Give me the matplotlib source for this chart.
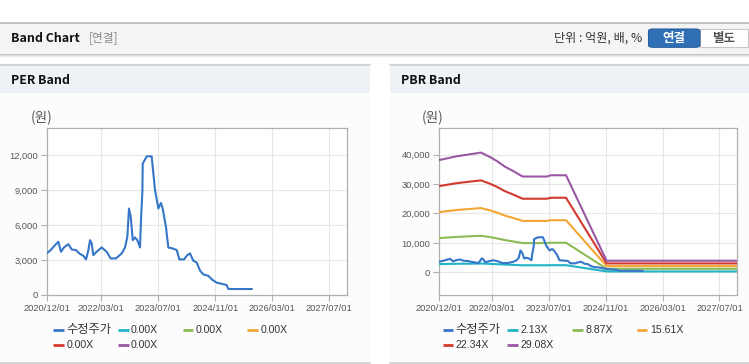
import matplotlib
matplotlib.use("Agg")
import matplotlib.pyplot as plt
from matplotlib.patches import Rectangle, FancyBboxPatch
from matplotlib.lines import Line2D
import pandas as pd

plt.rcParams['font.family'] = ['Liberation Sans', 'Noto Sans CJK KR', 'DejaVu Sans']

# ---------------- data ----------------
price_dates = ["2020-12-01", "2020-12-24", "2021-02-05", "2021-03-05", "2021-03-28", "2021-04-22",
               "2021-05-29", "2021-06-27", "2021-08-03", "2021-08-31", "2021-10-04", "2021-10-27",
               "2021-11-16", "2021-11-30", "2021-12-14", "2021-12-28", "2022-01-25", "2022-03-09",
               "2022-04-21", "2022-05-25", "2022-07-09", "2022-08-27", "2022-09-24", "2022-10-14",
               "2022-10-28", "2022-11-12", "2022-11-29", "2022-12-18", "2023-01-07", "2023-01-30",
               "2023-02-07", "2023-02-19", "2023-02-22", "2023-03-28", "2023-05-09", "2023-06-07",
               "2023-07-05", "2023-07-27", "2023-08-11", "2023-09-08", "2023-09-28", "2023-11-04",
               "2023-12-09", "2023-12-31", "2024-02-09", "2024-03-08", "2024-03-31", "2024-04-28",
               "2024-05-27", "2024-06-24", "2024-07-22", "2024-09-03", "2024-10-02", "2024-11-13",
               "2025-01-03", "2025-02-06", "2025-02-20", "2025-09-07"]
price_values = [3626, 3800, 4286, 4570, 3714, 4086,
                4370, 3914, 3857, 3571, 3371, 3057,
                3857, 4714, 4429, 3429, 3714, 4086,
                3714, 3143, 3143, 3571, 4086, 5000,
                7429, 6714, 4714, 4943, 4714, 4086,
                6429, 8857, 11286, 11914, 11914, 9000,
                7429, 7914, 7429, 5857, 4086, 4000,
                3857, 3057, 3057, 3429, 3571, 2943,
                2800, 2100, 1771, 1650, 1343, 1057,
                943, 857, 514, 514]

band_dates = ["2020-12-01", "2021-04-29", "2021-11-24", "2022-02-09", "2022-04-07", "2022-06-17",
              "2022-08-28", "2022-11-16", "2023-06-10", "2023-07-17", "2023-11-23", "2024-11-05",
              "2027-12-01"]
pbr_213 = [2797, 2890, 2982, 2871, 2775, 2631, 2520, 2386, 2386, 2418, 2418, 288, 288]
pbr_887 = [11646, 12037, 12418, 11957, 11558, 10954, 10493, 9934, 9934, 10067, 10067, 1197, 1197]
pbr_1561 = [20496, 21183, 21854, 21042, 20340, 19278, 18467, 17483, 17483, 17717, 17717, 2107, 2107]
pbr_2234 = [29332, 30315, 31276, 30114, 29109, 27590, 26428, 25021, 25021, 25356, 25356, 3016, 3016]
pbr_2908 = [38182, 39462, 40712, 39200, 37891, 35914, 34402, 32570, 32570, 33006, 33006, 3926, 3926]

price_label = "수정주가"
per_band_labels = ["0.00X", "0.00X", "0.00X", "0.00X", "0.00X"]
pbr_band_labels = ["2.13X", "8.87X", "15.61X", "22.34X", "29.08X"]

x_tick_labels = ["2020/12/01", "2022/03/01", "2023/07/01", "2024/11/01", "2026/03/01", "2027/07/01"]
per_yticks = [0, 3000, 6000, 9000, 12000]
pbr_yticks = [0, 10000, 20000, 30000, 40000]

price_color = "#3676c8"
band_colors = ["#22b3c6", "#8dba57", "#f3a632", "#d23a2f", "#9a58a4"]

# ---------------- figure ----------------
W, H = 749, 364
fig = plt.figure(figsize=(W / 100, H / 100), dpi=100)
fig.patch.set_facecolor("white")
KR = ["Noto Sans CJK KR"]


def fx(px):
    return px / W


def fy(py):
    return 1 - py / H


def rect(x0, y0, x1, y1, fc, ec="none", lw=0, z=0):
    r = Rectangle((fx(x0), fy(y1)), fx(x1) - fx(x0), fy(y0) - fy(y1),
                  transform=fig.transFigure, facecolor=fc, edgecolor=ec, linewidth=lw, zorder=z)
    fig.add_artist(r)


def hline(x0, x1, y, color, lw=1.0, alpha=1.0, z=1):
    fig.add_artist(Line2D([fx(x0), fx(x1)], [fy(y), fy(y)], transform=fig.transFigure,
                          color=color, linewidth=lw, alpha=alpha, zorder=z))


# top header bar
rect(0, 22, W, 53, "#f4f4f4")
hline(0, W, 22.5, "#b9b9b9", lw=1.2)
hline(0, W, 53.5, "#c4c4c4", lw=0.9)
hline(0, W, 54.5, "#d8d8d8", lw=0.9)
hline(0, W, 55.5, "#ececec", lw=0.9)
fig.text(fx(11), fy(38), "Band Chart", fontsize=8.9, fontweight="bold",
         family=KR, color="#111111", va="center", ha="left")
fig.text(fx(89), fy(38), "[연결]", fontsize=8.5, color="#8a8a8a", va="center", ha="left", family=KR)
fig.text(fx(642), fy(38), "단위 : 억원, 배, %", fontsize=8.7, color="#333333", va="center", ha="right",
         family=KR)
# buttons
btn_w = FancyBboxPatch((fx(700), fy(47.3)), fx(748) - fx(700), fy(29) - fy(47.3),
                       boxstyle="square,pad=0", transform=fig.transFigure,
                       facecolor="white", edgecolor="#c6c6c6", linewidth=0.8, zorder=2)
fig.add_artist(btn_w)
btn_b = FancyBboxPatch((fx(648.5), fy(47.3)), fx(700) - fx(648.5), fy(29) - fy(47.3),
                       boxstyle="round,pad=0,rounding_size=0.006", transform=fig.transFigure,
                       facecolor="#2f6fb6", edgecolor="#275f9e", linewidth=0.8, zorder=3)
fig.add_artist(btn_b)
fig.text(fx(674), fy(38.3), "연결", fontsize=9, fontweight="bold", color="white",
         va="center", ha="center", family=KR, zorder=4)
fig.text(fx(724), fy(38.3), "별도", fontsize=9, fontweight="bold", color="#555555",
         va="center", ha="center", family=KR, zorder=4)

# panels
for (px0, px1, title) in [(0, 370, "PER Band"), (390, W, "PBR Band")]:
    rect(px0, 64, px1, 93, "#eef1f6")
    rect(px0, 93, px1, 363, "#fcfcfc")
    hline(px0, px1, 64.5, "#cfcfcf", lw=1.2)
    hline(px0, px1, 362.5, "#cfcfcf", lw=1.2)
    fig.text(fx(px0 + 11), fy(80), title, fontsize=8.9, fontweight="bold",
             family=KR, color="#111111", va="center", ha="left")

x_ticks = pd.to_datetime([s.replace("/", "-") for s in x_tick_labels])
xmin, xmax = pd.Timestamp("2020-12-01"), pd.Timestamp("2027-12-01")
p_dates = pd.to_datetime(price_dates)
b_dates = pd.to_datetime(band_dates)


def setup_axes(rect_px, ylim, yticks):
    x0, y0, x1, y1 = rect_px
    ax = fig.add_axes([fx(x0), fy(y1), fx(x1) - fx(x0), fy(y0) - fy(y1)])
    ax.set_facecolor("white")
    ax.set_xlim(xmin, xmax)
    ax.set_ylim(*ylim)
    ax.set_xticks(x_ticks)
    ax.set_xticklabels(x_tick_labels)
    ax.set_yticks(yticks)
    ax.set_yticklabels([f"{v:,}" for v in yticks])
    ax.grid(True, color="#e6e6e6", linewidth=0.8)
    ax.set_axisbelow(True)
    for s in ax.spines.values():
        s.set_color("#b0b0b0")
        s.set_linewidth(0.9)
    ax.tick_params(axis="both", length=4, width=0.8, color="#b0b0b0",
                   labelsize=6.7, labelcolor="#555555", pad=2.5)
    return ax


ax1 = setup_axes((47.3, 128, 347.3, 295), (0, 14350), per_yticks)
ax1.plot(p_dates, price_values, color=price_color, linewidth=1.5, zorder=5)
fig.text(fx(31), fy(118), "(원)", fontsize=9.8, color="#555555", va="center", ha="left", family=KR)

ax2 = setup_axes((439.3, 128, 737.3, 295), (-7720, 49080), pbr_yticks)
pbr_series = [pbr_213, pbr_887, pbr_1561, pbr_2234, pbr_2908]
for vals, col in zip(pbr_series, band_colors):
    ax2.plot(b_dates, vals, color=col, linewidth=1.5, zorder=4)
ax2.plot(p_dates, price_values, color=price_color, linewidth=1.5, zorder=5)
fig.text(fx(422), fy(118), "(원)", fontsize=9.8, color="#555555", va="center", ha="left", family=KR)


# legends (manual layout)
def draw_legend(x_start, labels, colors):
    cols = [x_start + i * 64.7 for i in range(4)]
    rows = [330, 344.5]
    for i, (lab, col) in enumerate(zip(labels, colors)):
        cx = cols[i % 4]
        cy = rows[i // 4]
        fig.add_artist(Line2D([fx(cx), fx(cx + 10.5)], [fy(cy), fy(cy)], transform=fig.transFigure,
                              color=col, linewidth=2.0, solid_capstyle="butt"))
        is_kr = any(ord(ch) > 0x3000 for ch in lab)
        fig.text(fx(cx + 13), fy(cy), lab, fontsize=8.8 if is_kr else 7.6, color="#333333",
                 va="center", ha="left", family=KR if is_kr else ["Liberation Sans"])


draw_legend(53.3, [price_label] + per_band_labels, [price_color] + band_colors)
draw_legend(442.7, [price_label] + pbr_band_labels, [price_color] + band_colors)

fig.savefig("out.png", dpi=100, facecolor="white")
